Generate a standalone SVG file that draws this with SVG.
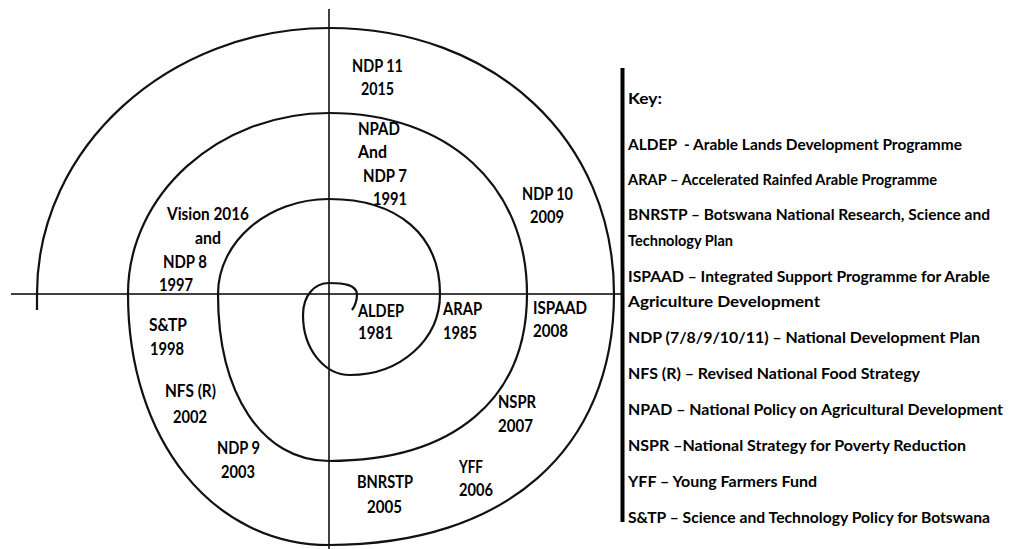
<svg xmlns="http://www.w3.org/2000/svg" width="1009" height="549" viewBox="0 0 1009 549">
<style>
.ax{stroke:#000;stroke-width:1.5;fill:none}
.sp{stroke:#111;stroke-width:2.2;fill:none;stroke-linejoin:round}
.lb{font-family:Lato,"Open Sans","Liberation Sans",sans-serif;font-weight:bold;font-size:16.5px;fill:#000}
.ky{font-family:Lato,"Open Sans","Liberation Sans",sans-serif;font-weight:bold;font-size:15.5px;fill:#000}
</style>
<rect width="1009" height="549" fill="#fff"/>
<g id="connectors">
<line class="ax" x1="11" y1="294" x2="622" y2="294"/>
<line class="ax" x1="329" y1="9" x2="329" y2="549"/>
<path id="spiral" class="sp" d="M352,310 C355,306 357,301 357,294 C356,285 345,283 329,283 C315,283 303,295 303,315 C303,350 325,375 350,375 C400,375 440,340 440,294 C440,235.1 397.8,199 329,199 C268,199 218,241.8 218,294 C218,394.2 262.4,461 329,461 C453.7,461 527,399.2 527,294 C527,185.4 447.8,113 329,113 C218.5,113 128,194.5 128,294 C128,439.6 212.4,545 329,545 C505.7,545 614,449.6 614,294 C614,139.7 494.3,28 329,28 C168.4,28 37,147.7 37,294 L37,310"/>
</g>
<g id="n-ndp11"><text class="lb" x="352" y="72" textLength="51" lengthAdjust="spacingAndGlyphs">NDP 11</text><text class="lb" x="361" y="95" textLength="33" lengthAdjust="spacingAndGlyphs">2015</text></g>
<g id="n-npad"><text class="lb" x="358" y="135" textLength="42" lengthAdjust="spacingAndGlyphs">NPAD</text><text class="lb" x="358" y="158" textLength="29" lengthAdjust="spacingAndGlyphs">And</text><text class="lb" x="363" y="182" textLength="44" lengthAdjust="spacingAndGlyphs">NDP 7</text><text class="lb" x="373" y="205" textLength="34" lengthAdjust="spacingAndGlyphs">1991</text></g>
<g id="n-ndp10"><text class="lb" x="522" y="200" textLength="51" lengthAdjust="spacingAndGlyphs">NDP 10</text><text class="lb" x="530" y="223" textLength="34" lengthAdjust="spacingAndGlyphs">2009</text></g>
<g id="n-vision"><text class="lb" x="167" y="220" textLength="82" lengthAdjust="spacingAndGlyphs">Vision 2016</text><text class="lb" x="195" y="244" textLength="26" lengthAdjust="spacingAndGlyphs">and</text><text class="lb" x="163" y="268" textLength="44" lengthAdjust="spacingAndGlyphs">NDP 8</text><text class="lb" x="159" y="291" textLength="34" lengthAdjust="spacingAndGlyphs">1997</text></g>
<g id="n-stp"><text class="lb" x="149" y="331" textLength="38" lengthAdjust="spacingAndGlyphs">S&amp;TP</text><text class="lb" x="150" y="355" textLength="34" lengthAdjust="spacingAndGlyphs">1998</text></g>
<g id="n-nfs"><text class="lb" x="165" y="397" textLength="51" lengthAdjust="spacingAndGlyphs">NFS (R)</text><text class="lb" x="173" y="423" textLength="34" lengthAdjust="spacingAndGlyphs">2002</text></g>
<g id="n-ndp9"><text class="lb" x="217" y="454" textLength="43" lengthAdjust="spacingAndGlyphs">NDP 9</text><text class="lb" x="221" y="478" textLength="34" lengthAdjust="spacingAndGlyphs">2003</text></g>
<g id="n-aldep"><text class="lb" x="358" y="317" textLength="46" lengthAdjust="spacingAndGlyphs">ALDEP</text><text class="lb" x="358" y="339" textLength="35" lengthAdjust="spacingAndGlyphs">1981</text></g>
<g id="n-arap"><text class="lb" x="443" y="315" textLength="39" lengthAdjust="spacingAndGlyphs">ARAP</text><text class="lb" x="443" y="339" textLength="34" lengthAdjust="spacingAndGlyphs">1985</text></g>
<g id="n-ispaad"><text class="lb" x="533" y="314" textLength="54" lengthAdjust="spacingAndGlyphs">ISPAAD</text><text class="lb" x="533" y="337" textLength="35" lengthAdjust="spacingAndGlyphs">2008</text></g>
<g id="n-nspr"><text class="lb" x="498" y="408" textLength="38" lengthAdjust="spacingAndGlyphs">NSPR</text><text class="lb" x="498" y="432" textLength="35" lengthAdjust="spacingAndGlyphs">2007</text></g>
<g id="n-yff"><text class="lb" x="459" y="473" textLength="24" lengthAdjust="spacingAndGlyphs">YFF</text><text class="lb" x="459" y="496" textLength="34" lengthAdjust="spacingAndGlyphs">2006</text></g>
<g id="n-bnrstp"><text class="lb" x="357" y="488" textLength="56" lengthAdjust="spacingAndGlyphs">BNRSTP</text><text class="lb" x="367" y="513" textLength="35" lengthAdjust="spacingAndGlyphs">2005</text></g>
<g id="key">
<rect x="620.5" y="68" width="4" height="454" fill="#000"/>
<text class="ky" x="628" y="104" textLength="34" lengthAdjust="spacingAndGlyphs">Key:</text>
<text class="ky" x="628" y="150" textLength="334" lengthAdjust="spacingAndGlyphs" xml:space="preserve">ALDEP  - Arable Lands Development Programme</text>
<text class="ky" x="628" y="185" textLength="309" lengthAdjust="spacingAndGlyphs">ARAP – Accelerated Rainfed Arable Programme</text>
<text class="ky" x="628" y="220" textLength="362" lengthAdjust="spacingAndGlyphs">BNRSTP – Botswana National Research, Science and</text>
<text class="ky" x="628" y="246" textLength="105" lengthAdjust="spacingAndGlyphs">Technology Plan</text>
<text class="ky" x="628" y="282" textLength="362" lengthAdjust="spacingAndGlyphs">ISPAAD – Integrated Support Programme for Arable</text>
<text class="ky" x="628" y="307" textLength="192" lengthAdjust="spacingAndGlyphs">Agriculture Development</text>
<text class="ky" x="628" y="343" textLength="352" lengthAdjust="spacingAndGlyphs">NDP (7/8/9/10/11) – National Development Plan</text>
<text class="ky" x="628" y="379" textLength="292" lengthAdjust="spacingAndGlyphs">NFS (R) – Revised National Food Strategy</text>
<text class="ky" x="628" y="415" textLength="375" lengthAdjust="spacingAndGlyphs">NPAD – National Policy on Agricultural Development</text>
<text class="ky" x="628" y="451" textLength="338" lengthAdjust="spacingAndGlyphs">NSPR –National Strategy for Poverty Reduction</text>
<text class="ky" x="628" y="487" textLength="189" lengthAdjust="spacingAndGlyphs">YFF – Young Farmers Fund</text>
<text class="ky" x="628" y="523" textLength="362" lengthAdjust="spacingAndGlyphs">S&amp;TP – Science and Technology Policy for Botswana</text>
</g>
</svg>
